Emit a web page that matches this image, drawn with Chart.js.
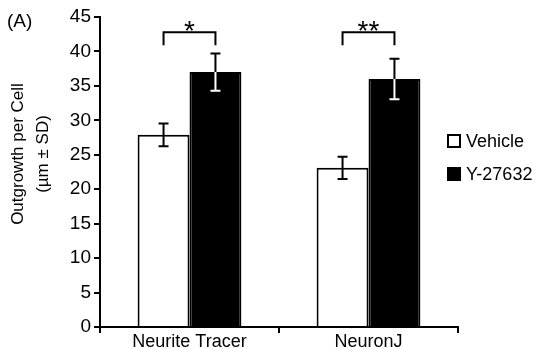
<!DOCTYPE html>
<html>
<head>
<meta charset="utf-8">
<script src="https://cdn.jsdelivr.net/npm/chart.js@4"></script>
<style>
html,body{margin:0;padding:0;background:#fff;}
#wrap{width:538px;height:349px;position:relative;}
</style>
</head>
<body>
<div id="wrap"><canvas id="c" width="538" height="349"></canvas></div>
<script>
const categories = ["Neurite Tracer", "NeuronJ"];
const seriesNames = ["Vehicle", "Y-27632"];
const vehicle = [27.9, 23.1];
const vehicleSD = [1.65, 1.6];
const y27632 = [37.0, 36.0];
const y27632SD = [2.7, 2.95];
const significance = ["*", "**"];
const bracketTop = 42.8;
const bracketLeg = 40.9;
const yTicks = [0, 5, 10, 15, 20, 25, 30, 35, 40, 45];
const yTitle = ["Outgrowth per Cell", "(\u00b5m \u00b1 SD)"];
const panelLabel = "(A)";

const FONT = "'Liberation Sans', Arial, sans-serif";

const overlay = {
  id: 'overlay',
  afterDatasetsDraw(chart) {
    const ctx = chart.ctx;
    const ys = chart.scales.y;
    const sets = [[vehicle, vehicleSD], [y27632, y27632SD]];
    ctx.save();
    ctx.lineWidth = 2;
    sets.forEach((s, di) => {
      const meta = chart.getDatasetMeta(di);
      meta.data.forEach((bar, i) => {
        const x = bar.x;
        const hi = ys.getPixelForValue(s[0][i] + s[1][i]);
        const lo = ys.getPixelForValue(s[0][i] - s[1][i]);
        ctx.strokeStyle = di === 0 ? '#000' : '#fff';
        ctx.beginPath();
        ctx.moveTo(x, hi); ctx.lineTo(x, lo);
        ctx.moveTo(x - 5, hi); ctx.lineTo(x + 5, hi);
        ctx.moveTo(x - 5, lo); ctx.lineTo(x + 5, lo);
        ctx.stroke();
        if (di === 1) {
          const top = ys.getPixelForValue(s[0][i]);
          ctx.strokeStyle = '#000';
          ctx.beginPath();
          ctx.moveTo(x, hi); ctx.lineTo(x, top);
          ctx.moveTo(x - 5, hi); ctx.lineTo(x + 5, hi);
          ctx.stroke();
        }
      });
    });
    ctx.strokeStyle = '#000';
    const m0 = chart.getDatasetMeta(0), m1 = chart.getDatasetMeta(1);
    const yt = ys.getPixelForValue(bracketTop), yl = ys.getPixelForValue(bracketLeg);
    categories.forEach((c, i) => {
      const x0 = m0.data[i].x, x1 = m1.data[i].x;
      ctx.beginPath();
      ctx.moveTo(x0, yl); ctx.lineTo(x0, yt); ctx.lineTo(x1, yt); ctx.lineTo(x1, yl);
      ctx.stroke();
      ctx.fillStyle = '#000';
      ctx.font = "28px " + FONT;
      ctx.textAlign = 'center';
      ctx.textBaseline = 'alphabetic';
      ctx.fillText(significance[i], (x0 + x1) / 2, yt + 8);
    });
    ctx.restore();
  },
  afterDraw(chart) {
    const ctx = chart.ctx;
    ctx.save();
    ctx.fillStyle = '#000';
    ctx.font = "19px " + FONT;
    ctx.textAlign = 'left';
    ctx.textBaseline = 'middle';
    ctx.fillText(panelLabel, 7, 22);
    ctx.save();
    ctx.translate(18, 154);
    ctx.rotate(-Math.PI / 2);
    ctx.textAlign = 'center';
    ctx.textBaseline = 'middle';
    ctx.font = "17px " + FONT;
    ctx.fillText(yTitle[0], 0, 0);
    ctx.fillText(yTitle[1], 0, 25);
    ctx.restore();
    ctx.font = "18px " + FONT;
    ctx.textAlign = 'left';
    ctx.textBaseline = 'middle';
    const items = [[seriesNames[0], '#fff', 141], [seriesNames[1], '#000', 174]];
    items.forEach(([t, col, y]) => {
      ctx.fillStyle = col;
      ctx.fillRect(448, y - 6, 12, 12);
      ctx.strokeStyle = '#000';
      ctx.lineWidth = 2;
      ctx.strokeRect(448, y - 6, 12, 12);
      ctx.fillStyle = '#000';
      ctx.fillText(t, 466, y + 1);
    });
    ctx.restore();
  }
};

new Chart(document.getElementById('c'), {
  type: 'bar',
  data: {
    labels: categories,
    datasets: [
      { label: seriesNames[0], data: vehicle, backgroundColor: '#fff', borderColor: '#000', borderWidth: 2, borderSkipped: 'bottom', categoryPercentage: 0.58, barPercentage: 1.0 },
      { label: seriesNames[1], data: y27632, backgroundColor: '#000', borderColor: '#000', borderWidth: 2, borderSkipped: 'bottom', categoryPercentage: 0.58, barPercentage: 1.0 }
    ]
  },
  options: {
    responsive: false,
    animation: false,
    devicePixelRatio: 1,
    layout: { padding: { left: 0, right: 80, top: 17, bottom: 0 } },
    plugins: { legend: { display: false }, tooltip: { enabled: false } },
    scales: {
      x: {
        offset: true,
        grid: { display: true, drawOnChartArea: false, drawTicks: true, tickLength: 6, color: '#000', lineWidth: 2, offset: true },
        border: { display: true, color: '#000', width: 2 },
        ticks: { color: '#000', font: { family: FONT, size: 18 }, padding: -2, maxRotation: 0 },
        afterFit(s) { s.height = 22; }
      },
      y: {
        min: 0, max: 45,
        afterBuildTicks(s) { s.ticks = yTicks.map(v => ({ value: v })); },
        grid: { display: true, drawOnChartArea: false, drawTicks: true, tickLength: 6, color: '#000', lineWidth: 2 },
        border: { display: true, color: '#000', width: 2 },
        ticks: { color: '#000', font: { family: FONT, size: 19 }, padding: 3 },
        afterFit(s) { s.width = 100; }
      }
    }
  },
  plugins: [overlay]
});
</script>
</body>
</html>
